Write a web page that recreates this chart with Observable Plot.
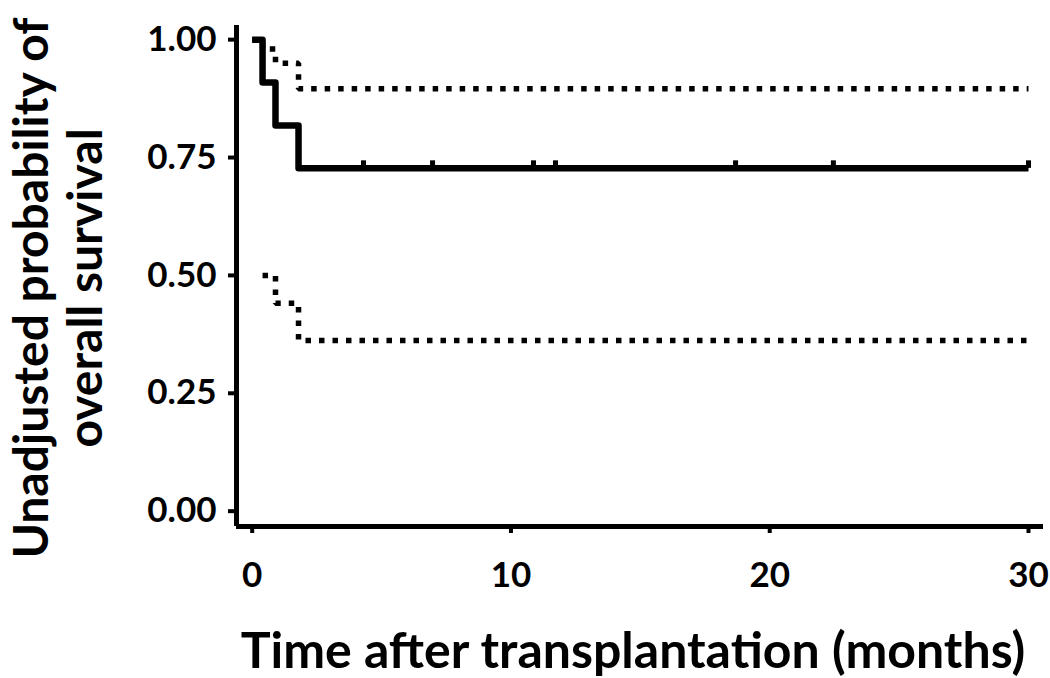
<!DOCTYPE html>
<html><head><meta charset="utf-8">
<script src="https://cdn.jsdelivr.net/npm/d3@7"></script>
<script src="https://cdn.jsdelivr.net/npm/@observablehq/plot@0.6"></script>
<style>html,body{margin:0;padding:0;background:#fff}svg{display:block}</style>
</head><body><div id="chart"></div>
<script>
// Kaplan-Meier estimate (solid) and pointwise confidence limits (dotted)
const survTime = [0, 0.40, 0.90, 1.79, 30];
const survProb = [1, 0.909, 0.818, 0.727, 0.727];
const upperTime = [0, 0.40, 0.90, 1.79, 30];
const upperProb = [1, 0.98, 0.95, 0.896, 0.896];
const lowerTime = [0.40, 0.90, 1.79, 30];
const lowerProb = [0.50, 0.441, 0.362, 0.362];
const censorTimes = [4.3, 6.97, 10.87, 11.72, 18.68, 22.46, 30];
const censorProb = 0.727;
const xTicks = [0, 10, 20, 30];
const yTicks = [0, 0.25, 0.5, 0.75, 1];
const xTitle = "Time after transplantation (months)";
const yTitle = "Unadjusted probability of\noverall survival";

const toRows = (t, p) => t.map((d, i) => ({t: d, p: p[i]}));
const surv = toRows(survTime, survProb);
const upper = toRows(upperTime, upperProb);
const lower = toRows(lowerTime, lowerProb);

const xDomain = [-0.607, 30.58];
const yDomain = [-0.0325, 1.03];

const chart = Plot.plot({
  width: 1050,
  height: 678,
  marginLeft: 236,
  marginRight: 7,
  marginTop: 25,
  marginBottom: 152,
  style: {fontFamily: "Lato, 'Open Sans', sans-serif", fontWeight: "bold", background: "#fff", color: "#000"},
  x: {domain: xDomain},
  y: {domain: yDomain},
  marks: [
    Plot.axisX({ticks: xTicks, tickSize: 7, tickPadding: 29, fontSize: 35, strokeWidth: 4, label: null}),
    Plot.axisY({ticks: yTicks, tickFormat: d3.format(".2f"), tickSize: 8, tickPadding: 12, fontSize: 35, strokeWidth: 4, label: null}),
    Plot.ruleX([xDomain[0]], {strokeWidth: 5}),
    Plot.ruleY([yDomain[0]], {strokeWidth: 5}),
    Plot.line(upper, {x: "t", y: "p", curve: "step-after", strokeWidth: 5.5, strokeDasharray: "5.5 8", strokeLinecap: "butt", strokeLinejoin: "miter"}),
    Plot.line(lower, {x: "t", y: "p", curve: "step-after", strokeWidth: 5.5, strokeDasharray: "5.5 8", strokeLinecap: "butt", strokeLinejoin: "miter"}),
    Plot.line(surv, {x: "t", y: "p", curve: "step-after", strokeWidth: 6.5, strokeLinejoin: "round", strokeLinecap: "butt"}),
    Plot.ruleX(censorTimes, {x: d => d, y1: censorProb, y2: censorProb + 0.016, strokeWidth: 5}),
    Plot.text([xTitle], {text: d => d, frameAnchor: "bottom", textAnchor: "middle", dy: 141, dx: -7, fontSize: 50, fontWeight: "bold", fill: "#000"}),
    Plot.text([yTitle], {text: d => d, frameAnchor: "left", textAnchor: "middle", lineAnchor: "middle", dx: -179, dy: 12, rotate: -90, fontSize: 48, lineHeight: 1.14, fontWeight: "bold", fill: "#000"})
  ]
});
document.getElementById("chart").appendChild(chart);
</script>
</body></html>
